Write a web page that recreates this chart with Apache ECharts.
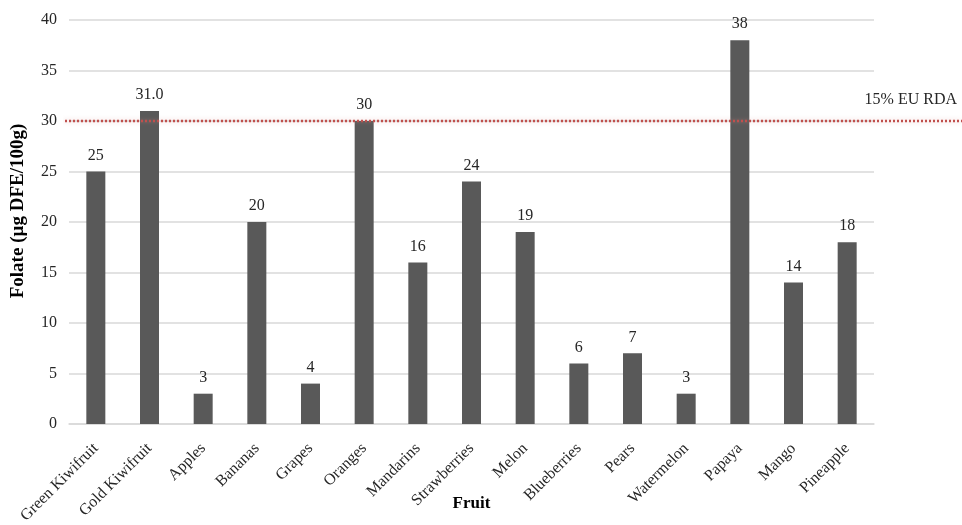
<!DOCTYPE html>
<html>
<head>
<meta charset="utf-8">
<script src="https://cdn.jsdelivr.net/npm/echarts@6/dist/echarts.min.js"></script>
<style>
  html, body { margin: 0; padding: 0; background: #fff; }
  #chart { width: 962px; height: 525px; }
</style>
</head>
<body>
<div id="chart"></div>
<script>
// Folate content per fruit (µg DFE per 100 g)
const fruits = ['Green Kiwifruit', 'Gold Kiwifruit', 'Apples', 'Bananas', 'Grapes', 'Oranges',
  'Mandarins', 'Strawberries', 'Melon', 'Blueberries', 'Pears', 'Watermelon', 'Papaya', 'Mango', 'Pineapple'];
const folate = [25, 31, 3, 20, 4, 30, 16, 24, 19, 6, 7, 3, 38, 14, 18];
// decimals shown in each bar's value label
const labelDecimals = [0, 1, 0, 0, 0, 0, 0, 0, 0, 0, 0, 0, 0, 0, 0];
// reference threshold: 15% of the EU recommended daily allowance
const rdaLevel = 30;
const rdaText = '15% EU RDA';
const yTicks = { min: 0, max: 40, interval: 5 };

const font = 'Liberation Serif, Times New Roman, serif';
const textColor = '#262626';

const chart = echarts.init(document.getElementById('chart'), null, { renderer: 'canvas' });

chart.setOption({
  animation: false,
  backgroundColor: '#ffffff',
  grid: [
    { left: 69, right: 88, top: 20, bottom: 101, outerBoundsMode: 'none' },
    { left: 65, right: 0, top: 20, bottom: 101, outerBoundsMode: 'none' }
  ],
  xAxis: [
    {
      gridIndex: 0,
      type: 'category',
      data: fruits,
      name: 'Fruit',
      nameLocation: 'middle',
      nameGap: 71,
      nameMoveOverlap: false,
      nameTextStyle: { fontFamily: font, fontWeight: 'bold', fontSize: 17, color: '#000' },
      axisLine: { lineStyle: { color: '#d9d9d9', width: 1.5 } },
      axisTick: { show: false },
      axisLabel: { rotate: 45, fontFamily: font, fontSize: 16, color: textColor, margin: 22, interval: 0 }
    },
    { gridIndex: 1, type: 'value', min: 0, max: 1, show: false }
  ],
  yAxis: [
    {
      gridIndex: 0,
      type: 'value',
      min: yTicks.min, max: yTicks.max, interval: yTicks.interval,
      name: 'Folate (µg DFE/100g)',
      nameLocation: 'middle',
      nameGap: 41,
      nameMoveOverlap: false,
      nameTextStyle: { fontFamily: font, fontWeight: 'bold', fontSize: 19, color: '#000', padding: [0, 0, 0, 22] },
      axisLine: { show: false },
      axisTick: { show: false },
      axisLabel: { fontFamily: font, fontSize: 16, color: textColor, margin: 12 },
      splitLine: { lineStyle: { color: '#d9d9d9', width: 1.5 } }
    },
    { gridIndex: 1, type: 'value', min: yTicks.min, max: yTicks.max, show: false }
  ],
  series: [
    {
      type: 'bar',
      xAxisIndex: 0, yAxisIndex: 0,
      data: folate,
      barWidth: 19,
      itemStyle: { color: '#595959' },
      label: {
        show: true,
        position: 'top',
        distance: 8,
        fontFamily: font,
        fontSize: 16,
        color: textColor,
        formatter: p => p.value.toFixed(labelDecimals[p.dataIndex])
      }
    },
    {
      type: 'line',
      xAxisIndex: 1, yAxisIndex: 1,
      data: [[0, rdaLevel], [1, rdaLevel]],
      symbol: 'none',
      silent: true,
      z: 5,
      lineStyle: { color: '#c0504d', width: 2.5, type: [2, 2], shadowColor: 'rgba(220,150,150,0.5)', shadowBlur: 4 }
    }
  ],
  graphic: [
    {
      type: 'text',
      right: 5,
      top: 92,
      style: { text: rdaText, font: '16px ' + font, fill: textColor }
    }
  ]
});
</script>
</body>
</html>
